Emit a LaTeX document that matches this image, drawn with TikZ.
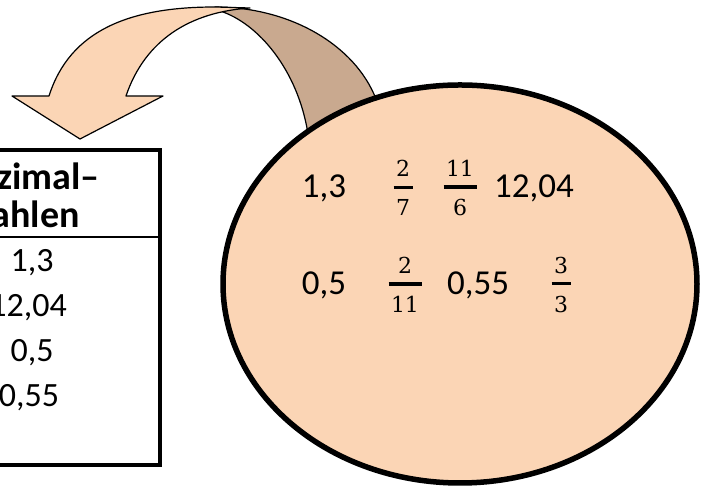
\documentclass[tikz,border=0pt]{standalone}
\usepackage{fontspec}
\setmainfont{Carlito}
\newfontfamily\bruchfont{DejaVu Serif}
\definecolor{pfirsich}{RGB}{251,213,181}
\definecolor{braun}{RGB}{201,169,143}
\newcommand{\bruch}[2]{{\setlength{\arrayrulewidth}{3.3pt}\renewcommand{\arraystretch}{0}%
  \begin{tabular}{@{\hspace{2.5pt}}c@{\hspace{2.5pt}}}\rule[-9pt]{0pt}{27pt}#1\\\hline\rule{0pt}{27pt}#2\end{tabular}}}
\tikzset{
  band/.style={draw=black, line width=1.2pt, line join=round},
  zahl/.style={anchor=base, inner sep=0pt, font=\fontsize{35}{40}\selectfont},
  bruchzahl/.style={anchor=center, inner sep=0pt, font=\fontsize{22}{25}\selectfont\bruchfont},
  kopf/.style={anchor=base east, inner sep=0pt, font=\fontsize{38}{42}\selectfont\bfseries},
  eintrag/.style={anchor=base, inner sep=0pt, font=\fontsize{34}{40}\selectfont}
}

\begin{document}
\begin{tikzpicture}[x=1pt,y=1pt]
\useasboundingbox (0,0) rectangle (710,486);
\clip (0,0) rectangle (710,486);
\draw [band, fill=braun] (215,479) .. controls (290,479) and (355,441) .. (376,387) -- (308,352) .. controls (298,416) and (258,463) .. (220,475) -- cycle;
\draw [band, fill=pfirsich] (12,390) -- (49,390) .. controls (70,456) and (130,479) .. (215,479) -- (250,478) .. controls (190,474) and (145,446) .. (126,390) -- (163,390) -- (80,347) -- cycle;
\draw [line width=3.5pt] (-90,21) rectangle (160,336);
\draw [line width=2.5pt] (-90,249) -- (160,249);
\node [kopf] (kopfa) at (100,296) {Dezimal–};
\node [kopf] (kopfb) at (80,258) {zahlen};
\node [eintrag] (ta) at (32,214) {1,3};
\node [eintrag] (tb) at (28,169) {12,04};
\node [eintrag] (tc) at (32,124) {0,5};
\node [eintrag] (td) at (29,79) {0,55};
\draw [fill=pfirsich, line width=5.5pt] (460,202) ellipse [x radius=237, y radius=199];
\node [zahl] (za) at (324,288) {1,3};
\node [bruchzahl] (fa) at (403,298.7) {\bruch{2}{7}};
\node [bruchzahl] (fb) at (460,298.7) {\bruch{11}{6}};
\node [zahl] (zb) at (534,288) {12,04};
\node [zahl] (zc) at (324,191) {0,5};
\node [bruchzahl] (fc) at (405,202) {\bruch{2}{11}};
\node [zahl] (zd) at (478,191) {0,55};
\node [bruchzahl] (fd) at (561,202) {\bruch{3}{3}};
\end{tikzpicture}
\end{document}
